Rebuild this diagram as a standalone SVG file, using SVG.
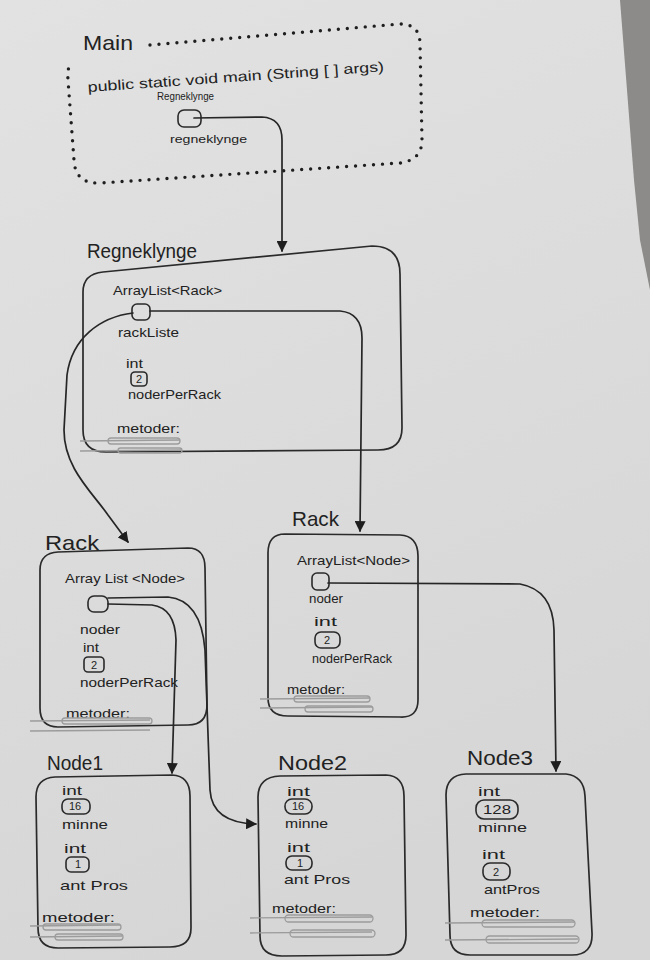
<svg xmlns="http://www.w3.org/2000/svg" width="650" height="960" viewBox="0 0 650 960">
  <defs>
    <linearGradient id="paper" x1="0" y1="0" x2="0.3" y2="1">
      <stop offset="0" stop-color="#e2e2e2"/>
      <stop offset="1" stop-color="#d6d6d6"/>
    </linearGradient>
    <marker id="arrow" viewBox="0 0 10 10" refX="9" refY="5" markerWidth="11" markerHeight="11" markerUnits="userSpaceOnUse" orient="auto">
      <path d="M0,0 L10,5 L0,10 Z" fill="#1e1e1e"/>
    </marker>
    <style>
      .ink { fill: none; stroke: #2a2a2a; stroke-width: 1.7; stroke-linejoin: round; stroke-linecap: round; }
      .slot { fill: none; stroke: #2a2a2a; stroke-width: 1.6; }
      .pale { fill: none; stroke: #9c9c9c; stroke-width: 1.3; }
      .dots { fill: none; stroke: #1e1e1e; stroke-width: 3.4; stroke-linecap: round; stroke-dasharray: 0 9; }
      .edge { fill: none; stroke: #262626; stroke-width: 1.7; stroke-linecap: round; marker-end: url(#arrow); }
      text { font-family: "Liberation Sans", "DejaVu Sans", sans-serif; fill: #222; }
      .title { font-size: 21px; }
      .t { font-size: 13px; }
      .s { font-size: 11px; }
      .n { font-size: 11px; }
    </style>
  </defs>

  <!-- paper -->
  <rect width="650" height="960" fill="url(#paper)"/>
  <path d="M620,0 L650,0 L650,290 L640,240 L634,180 Z" fill="#8c8b89"/>

  <!-- Main -->
  <g id="main">
    <path class="dots" d="M150,45 L400,24 Q420,24 420,44 L422,140 Q422,160 400,163 L100,183 Q75,184 74,160 L68,80 Q67,66 72,62"/>
    <text class="title" x="83" y="50" textLength="50" lengthAdjust="spacingAndGlyphs">Main</text>
    <text x="88" y="92" font-size="14" textLength="297" lengthAdjust="spacingAndGlyphs" transform="rotate(-4 88 92)">public static void main (String [ ] args)</text>
    <text class="s" x="157" y="100" textLength="57" lengthAdjust="spacingAndGlyphs">Regneklynge</text>
    <rect class="slot" x="178" y="110" width="23" height="17" rx="6"/>
    <text class="s" x="170" y="143" textLength="77" lengthAdjust="spacingAndGlyphs">regneklynge</text>
  </g>

  <!-- Regneklynge -->
  <g id="regneklynge">
    <path class="ink" d="M103,272 L372,246 Q400,246 400,274 L402,428 Q402,450 378,450 L106,452 Q83,452 83,430 L83,292 Q83,274 103,272 Z"/>
    <text class="title" x="87" y="258" textLength="110" lengthAdjust="spacingAndGlyphs">Regneklynge</text>
    <text class="t" x="113" y="295" textLength="109" lengthAdjust="spacingAndGlyphs">ArrayList&lt;Rack&gt;</text>
    <rect class="slot" x="132" y="304" width="18" height="16" rx="5"/>
    <text class="t" x="118" y="337" textLength="61" lengthAdjust="spacingAndGlyphs">rackListe</text>
    <text class="t" x="126" y="368" textLength="17" lengthAdjust="spacingAndGlyphs">int</text>
    <rect class="slot" x="131" y="372" width="16" height="14" rx="4"/>
    <text class="n" x="136" y="383">2</text>
    <text class="t" x="128" y="399" textLength="93" lengthAdjust="spacingAndGlyphs">noderPerRack</text>
    <text class="t" x="117" y="433" textLength="63" lengthAdjust="spacingAndGlyphs">metoder:</text>
    <path class="pale" d="M80,441 L180,440 M80,451 L182,450"/>
    <rect class="pale" x="108" y="438" width="72" height="6" rx="3"/>
    <rect class="pale" x="118" y="448" width="64" height="5" rx="2.5"/>
  </g>

  <!-- Rack (left) -->
  <g id="rack1">
    <path class="ink" d="M58,552 L188,548 Q205,548 205,568 L207,705 Q207,725 188,725 L58,727 Q40,727 40,708 L40,570 Q40,553 58,552 Z"/>
    <text class="title" x="45" y="550" textLength="54" lengthAdjust="spacingAndGlyphs">Rack</text>
    <text class="t" x="65" y="583" textLength="120" lengthAdjust="spacingAndGlyphs">Array List &lt;Node&gt;</text>
    <rect class="slot" x="88" y="596" width="20" height="16" rx="6"/>
    <text class="t" x="80" y="634" textLength="40" lengthAdjust="spacingAndGlyphs">noder</text>
    <text class="t" x="83" y="652" textLength="16" lengthAdjust="spacingAndGlyphs">int</text>
    <rect class="slot" x="84" y="657" width="20" height="15" rx="4"/>
    <text class="n" x="91" y="669">2</text>
    <text class="t" x="80" y="687" textLength="98" lengthAdjust="spacingAndGlyphs">noderPerRack</text>
    <text class="t" x="66" y="718" textLength="64" lengthAdjust="spacingAndGlyphs">metoder:</text>
    <path class="pale" d="M30,721 L150,720 M30,731 L150,730"/>
    <rect class="pale" x="62" y="718" width="90" height="6" rx="3"/>
  </g>

  <!-- Rack (right) -->
  <g id="rack2">
    <path class="ink" d="M285,534 L400,535 Q418,536 418,556 L418,700 Q418,718 400,717 L288,716 Q268,716 268,698 L268,553 Q268,534 285,534 Z"/>
    <text class="title" x="292" y="526" textLength="47" lengthAdjust="spacingAndGlyphs">Rack</text>
    <text class="t" x="297" y="565" textLength="113" lengthAdjust="spacingAndGlyphs">ArrayList&lt;Node&gt;</text>
    <rect class="slot" x="312" y="573" width="17" height="17" rx="5"/>
    <text class="t" x="309" y="603" textLength="34" lengthAdjust="spacingAndGlyphs">noder</text>
    <text class="t" x="314" y="626" textLength="23" lengthAdjust="spacingAndGlyphs">int</text>
    <rect class="slot" x="315" y="632" width="25" height="16" rx="6"/>
    <text class="n" x="324" y="644">2</text>
    <text class="t" x="312" y="663" textLength="80" lengthAdjust="spacingAndGlyphs">noderPerRack</text>
    <text class="t" x="287" y="694" textLength="58" lengthAdjust="spacingAndGlyphs">metoder:</text>
    <path class="pale" d="M260,699 L370,698 M260,708 L372,707"/>
    <rect class="pale" x="294" y="696" width="76" height="6" rx="3"/>
    <rect class="pale" x="305" y="706" width="68" height="6" rx="3"/>
  </g>

  <!-- Node1 -->
  <g id="node1">
    <path class="ink" d="M55,777 L172,775 Q190,776 190,796 L191,928 Q191,947 170,947 L58,948 Q38,948 38,928 L36,797 Q36,778 55,777 Z"/>
    <text class="title" x="47" y="770" textLength="56" lengthAdjust="spacingAndGlyphs">Node1</text>
    <text class="t" x="62" y="795" textLength="20" lengthAdjust="spacingAndGlyphs">int</text>
    <rect class="slot" x="62" y="799" width="28" height="15" rx="6"/>
    <text class="n" x="69" y="810">16</text>
    <text class="t" x="62" y="829" textLength="46" lengthAdjust="spacingAndGlyphs">minne</text>
    <text class="t" x="64" y="853" textLength="22" lengthAdjust="spacingAndGlyphs">int</text>
    <rect class="slot" x="66" y="857" width="23" height="15" rx="5"/>
    <text class="n" x="75" y="868">1</text>
    <text class="t" x="60" y="890" textLength="68" lengthAdjust="spacingAndGlyphs">ant Pros</text>
    <text class="t" x="42" y="922" textLength="73" lengthAdjust="spacingAndGlyphs">metoder:</text>
    <path class="pale" d="M30,926 L120,925 M30,937 L122,936"/>
    <rect class="pale" x="43" y="924" width="78" height="6" rx="3"/>
    <rect class="pale" x="55" y="934" width="68" height="6" rx="3"/>
  </g>

  <!-- Node2 -->
  <g id="node2">
    <path class="ink" d="M280,776 L386,775 Q404,776 404,796 L406,935 Q406,955 386,955 L282,956 Q260,956 260,936 L258,797 Q258,777 280,776 Z"/>
    <text class="title" x="278" y="770" textLength="69" lengthAdjust="spacingAndGlyphs">Node2</text>
    <text class="t" x="287" y="796" textLength="23" lengthAdjust="spacingAndGlyphs">int</text>
    <rect class="slot" x="285" y="799" width="27" height="15" rx="7"/>
    <text class="n" x="292" y="810">16</text>
    <text class="t" x="285" y="828" textLength="43" lengthAdjust="spacingAndGlyphs">minne</text>
    <text class="t" x="287" y="852" textLength="23" lengthAdjust="spacingAndGlyphs">int</text>
    <rect class="slot" x="286" y="856" width="26" height="14" rx="6"/>
    <text class="n" x="297" y="867">1</text>
    <text class="t" x="284" y="884" textLength="66" lengthAdjust="spacingAndGlyphs">ant Pros</text>
    <text class="t" x="272" y="913" textLength="64" lengthAdjust="spacingAndGlyphs">metoder:</text>
    <path class="pale" d="M250,918 L372,917 M250,933 L372,932"/>
    <rect class="pale" x="285" y="915" width="88" height="7" rx="3.5"/>
    <rect class="pale" x="290" y="930" width="85" height="7" rx="3.5"/>
  </g>

  <!-- Node3 -->
  <g id="node3">
    <path class="ink" d="M466,774 L566,774 Q584,776 585,796 L592,933 Q593,955 572,955 L470,955 Q450,955 450,935 L446,795 Q446,775 466,774 Z"/>
    <text class="title" x="467" y="765" textLength="66" lengthAdjust="spacingAndGlyphs">Node3</text>
    <text class="t" x="478" y="796" textLength="22" lengthAdjust="spacingAndGlyphs">int</text>
    <rect class="slot" x="476" y="800" width="42" height="19" rx="8"/>
    <text class="t" x="483" y="814" textLength="28" lengthAdjust="spacingAndGlyphs">128</text>
    <text class="t" x="478" y="832" textLength="49" lengthAdjust="spacingAndGlyphs">minne</text>
    <text class="t" x="482" y="859" textLength="23" lengthAdjust="spacingAndGlyphs">int</text>
    <rect class="slot" x="483" y="863" width="27" height="17" rx="7"/>
    <text class="n" x="493" y="876">2</text>
    <text class="t" x="484" y="894" textLength="56" lengthAdjust="spacingAndGlyphs">antPros</text>
    <text class="t" x="470" y="917" textLength="70" lengthAdjust="spacingAndGlyphs">metoder:</text>
    <path class="pale" d="M445,923 L575,922 M445,940 L578,939"/>
    <rect class="pale" x="482" y="920" width="93" height="7" rx="3.5"/>
    <rect class="pale" x="486" y="936" width="93" height="7" rx="3.5"/>
  </g>

  <!-- references between objects -->
  <g id="connectors">
    <path class="edge" d="M194,118 L262,117 Q282,118 282,140 L282,251"/>
    <path class="edge" d="M150,311 L340,311 Q362,313 362,338 L360,531"/>
    <path class="edge" d="M133,313 C100,317 72,338 67,375 L64,430 C64,468 92,492 108,515 L128,542"/>
    <path class="edge" d="M108,604 L152,605 Q175,608 176,640 L172,773"/>
    <path class="edge" d="M108,598 L168,597 Q201,600 205,650 L210,790 Q212,823 256,824"/>
    <path class="edge" d="M328,583 L520,584 Q553,590 554,630 L556,771"/>
  </g>
</svg>
